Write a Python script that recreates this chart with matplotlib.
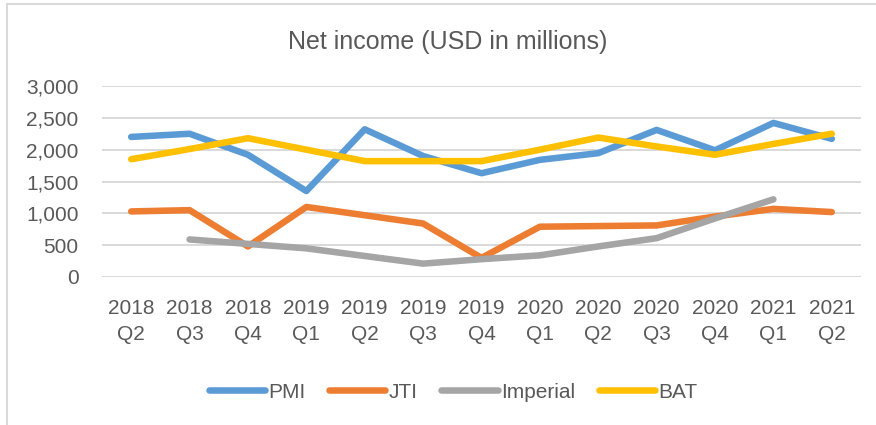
import numpy as np
import matplotlib
matplotlib.use("Agg")
import matplotlib.pyplot as plt
from matplotlib.lines import Line2D

plt.rcParams['font.family'] = ['Liberation Sans', 'DejaVu Sans']

QUARTERS = ['2018\nQ2', '2018\nQ3', '2018\nQ4', '2019\nQ1', '2019\nQ2', '2019\nQ3', '2019\nQ4',
            '2020\nQ1', '2020\nQ2', '2020\nQ3', '2020\nQ4', '2021\nQ1', '2021\nQ2']
PMI = [2200, 2250, 1920, 1350, 2320, 1900, 1630, 1840, 1945, 2310, 1990, 2420, 2170]
JTI = [1030, 1050, 480, 1100, 970, 840, 300, 790, 800, 810, 950, 1070, 1020]
IMPERIAL = [np.nan, 590, 520, 450, 330, 210, 280, 340, 480, 610, 920, 1220, np.nan]
BAT = [1850, 2010, 2180, 2000, 1820, 1820, 1820, 2000, 2190, 2050, 1920, 2090, 2250]
SERIES = [('PMI', PMI, '#5B9BD5'), ('JTI', JTI, '#ED7D31'),
          ('Imperial', IMPERIAL, '#A5A5A5'), ('BAT', BAT, '#FFC000')]
TEXT = '#595959'
GRID = '#D9D9D9'

W, H = 876, 425
fig = plt.figure(figsize=(W / 100, H / 100), dpi=100)
ax = fig.add_axes([102 / W, 1 - 277 / H, (861 - 102) / W, (277 - 86) / H])

x = np.arange(len(QUARTERS))
for name, vals, col in SERIES:
    ax.plot(x, vals, color=col, lw=4.7, label=name, solid_capstyle='round',
            solid_joinstyle='round')

ax.set_xlim(-0.5, len(QUARTERS) - 0.5)
ax.set_ylim(0, 3000)
ax.set_yticks(range(0, 3001, 500))
ax.set_yticklabels([f'{v:,}' for v in range(0, 3001, 500)])
ax.set_xticks(x)
ax.set_xticklabels(QUARTERS, linespacing=1.45)
ax.tick_params(axis='y', length=0, pad=17, labelsize=15, labelcolor=TEXT)
ax.tick_params(axis='x', length=0, pad=16, labelsize=15, labelcolor=TEXT)
ax.grid(axis='y', color=GRID, lw=1.4)
ax.set_axisbelow(True)
for s in ax.spines.values():
    s.set_visible(False)

fig.text(448 / W, 1 - 42 / H, 'Net income (USD in millions)', ha='center', va='center',
         fontsize=18, color=TEXT)

fig.legend(loc='center', bbox_to_anchor=(453 / W, 1 - 392 / H), ncol=4, frameon=False,
           fontsize=15, labelcolor=TEXT, handlelength=2.7, handletextpad=0.15,
           columnspacing=1.15)

# chart frame
fig.add_artist(Line2D([7 / W, 7 / W], [0, 1 - 4 / H], color=GRID, lw=1.5,
                      transform=fig.transFigure))
fig.add_artist(Line2D([7 / W, 1], [1 - 4 / H, 1 - 4 / H], color=GRID, lw=1.5,
                      transform=fig.transFigure))

fig.savefig('out.png', dpi=100)
